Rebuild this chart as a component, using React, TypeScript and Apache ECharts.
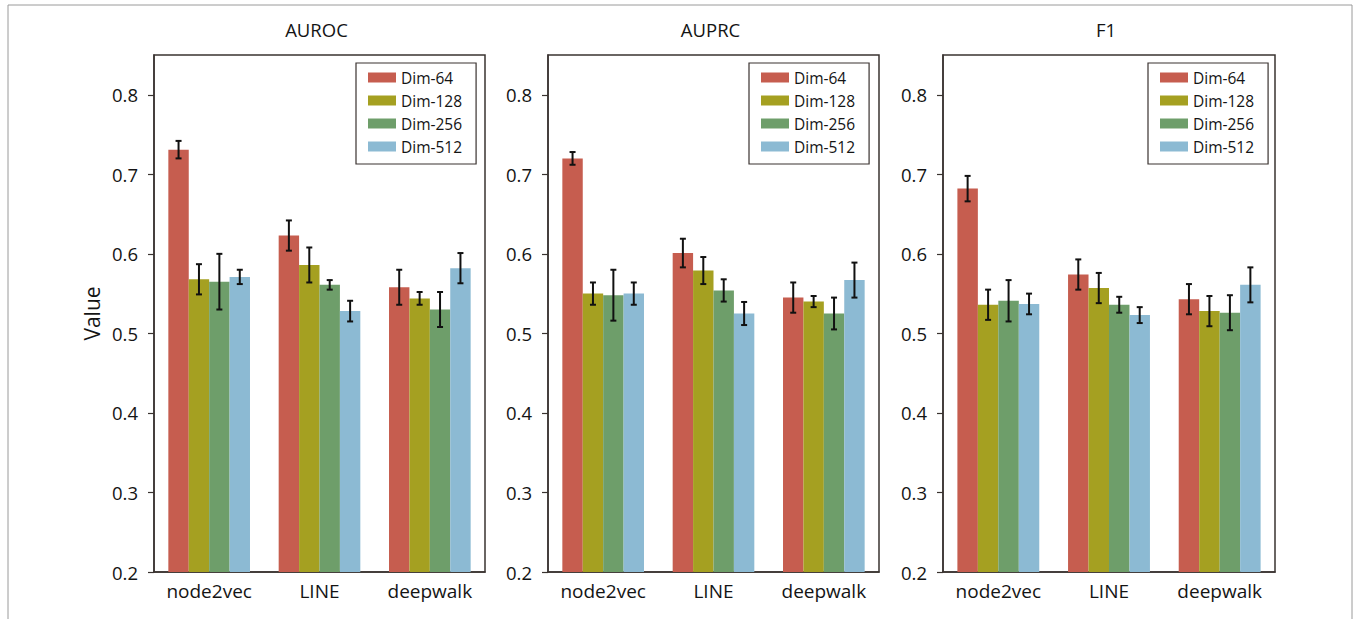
import React, { useEffect, useRef } from "react";
import * as echarts from "echarts";

const categories = ["node2vec", "LINE", "deepwalk"];
const dims = ["Dim-64", "Dim-128", "Dim-256", "Dim-512"];
const metrics = ["AUROC", "AUPRC", "F1"];
const yTicks = [0.2, 0.3, 0.4, 0.5, 0.6, 0.7, 0.8];
const colors = ["#C65D4F", "#A5A021", "#6E9E6A", "#8CBAD3"];

// values[dim][category]
const aurocMean = [
  [0.731, 0.623, 0.558],
  [0.568, 0.586, 0.544],
  [0.565, 0.561, 0.53],
  [0.571, 0.528, 0.582],
];
const aurocErr = [
  [0.011, 0.019, 0.022],
  [0.019, 0.022, 0.008],
  [0.035, 0.006, 0.022],
  [0.009, 0.013, 0.019],
];
const auprcMean = [
  [0.72, 0.601, 0.545],
  [0.55, 0.579, 0.54],
  [0.548, 0.554, 0.525],
  [0.55, 0.525, 0.567],
];
const auprcErr = [
  [0.008, 0.018, 0.019],
  [0.014, 0.017, 0.007],
  [0.032, 0.014, 0.02],
  [0.014, 0.0145, 0.022],
];
const f1Mean = [
  [0.682, 0.574, 0.543],
  [0.536, 0.557, 0.528],
  [0.541, 0.536, 0.526],
  [0.537, 0.523, 0.561],
];
const f1Err = [
  [0.016, 0.019, 0.019],
  [0.019, 0.019, 0.019],
  [0.026, 0.01, 0.022],
  [0.013, 0.01, 0.022],
];

const means = [aurocMean, auprcMean, f1Mean];
const errs = [aurocErr, auprcErr, f1Err];

const FONT = "'Open Sans', sans-serif";
const TXT = "#141414";
const CAT_GAP = 0.26;

export default function App() {
  const ref = useRef<HTMLDivElement>(null);
  useEffect(() => {
    if (!ref.current) return;
    const chart = echarts.init(ref.current, null, { renderer: "svg" });
    const gridLefts = [154, 548, 943];
    const gridWidths = [331, 331, 332];
    const legendLefts = [356, 749, 1148];

    const grid = gridLefts.map((l, i) => ({
      left: l,
      width: gridWidths[i],
      top: 55,
      bottom: 47,
      show: true,
      borderColor: "#3a3330",
      borderWidth: 1.5,
      backgroundColor: "transparent",
    }));

    const xAxis = metrics.map((_, i) => ({
      type: "category",
      gridIndex: i,
      data: categories,
      axisLine: { show: true, lineStyle: { color: "#3a3330", width: 1.5 } },
      axisTick: { show: false },
      axisLabel: {
        fontFamily: FONT,
        fontSize: 19,
        color: TXT,
        margin: 9,
        interval: 0,
        hideOverlap: false,
      },
    }));

    const yAxis = metrics.map((_, i) => ({
      type: "value",
      gridIndex: i,
      min: 0.2,
      max: 0.85,
      splitLine: { show: false },
      axisLine: { show: true, lineStyle: { color: "#3a3330", width: 1.5 } },
      axisTick: {
        show: true,
        length: 6,
        customValues: yTicks,
        lineStyle: { color: "#3a3330", width: 1.2 },
      },
      axisLabel: {
        fontFamily: FONT,
        fontSize: 18.5,
        color: TXT,
        margin: 16,
        customValues: yTicks,
        formatter: (v: number) => v.toFixed(1),
      },
      name: i === 0 ? "Value" : "",
      nameLocation: "middle",
      nameGap: 52,
      nameTextStyle: { fontFamily: FONT, fontSize: 21, color: TXT },
    }));

    const series: any[] = [];
    metrics.forEach((_, mi) => {
      dims.forEach((d, di) => {
        series.push({
          type: "bar",
          name: d,
          xAxisIndex: mi,
          yAxisIndex: mi,
          data: means[mi][di],
          barGap: "0%",
          barCategoryGap: CAT_GAP * 100 + "%",
          itemStyle: { color: colors[di] },
          emphasis: { disabled: true },
        });
      });
      const errData: number[][] = [];
      dims.forEach((_, di) => {
        categories.forEach((_, ci) => {
          errData.push([ci, means[mi][di][ci], errs[mi][di][ci], di]);
        });
      });
      series.push({
        type: "custom",
        xAxisIndex: mi,
        yAxisIndex: mi,
        data: errData,
        z: 10,
        silent: true,
        renderItem: (params: any, api: any) => {
          const ci = api.value(0);
          const v = api.value(1);
          const e = api.value(2);
          const di = api.value(3);
          const c = api.coord([ci, v]);
          const band = api.size([1, 0])[0];
          const bw = (band * (1 - CAT_GAP)) / dims.length;
          const x = c[0] + (di - (dims.length - 1) / 2) * bw;
          const yt = api.coord([ci, v + e])[1];
          const yb = api.coord([ci, v - e])[1];
          const cap = 3;
          const style = { stroke: "#111", lineWidth: 2 };
          return {
            type: "group",
            children: [
              { type: "line", shape: { x1: x, y1: yt, x2: x, y2: yb }, style },
              { type: "line", shape: { x1: x - cap, y1: yt, x2: x + cap, y2: yt }, style },
              { type: "line", shape: { x1: x - cap, y1: yb, x2: x + cap, y2: yb }, style },
            ],
          };
        },
      });
    });

    const legend = legendLefts.map((l) => ({
      data: dims,
      orient: "vertical",
      left: l,
      top: 63,
      icon: "rect",
      itemWidth: 28,
      itemHeight: 10,
      itemGap: 6,
      padding: [6, 14, 9, 12],
      borderColor: "#3a3330",
      borderWidth: 1.2,
      borderRadius: 0,
      backgroundColor: "#fff",
      textStyle: { fontFamily: FONT, fontSize: 15.5, color: TXT, lineHeight: 17 },
      selectedMode: false,
    }));

    const title = metrics.map((m, i) => ({
      text: m,
      left: gridLefts[i] + gridWidths[i] / 2 - 3,
      textAlign: "center",
      top: 20,
      padding: 0,
      textStyle: { fontFamily: FONT, fontSize: 18.5, fontWeight: "normal", color: TXT },
    }));

    chart.setOption({
      animation: false,
      backgroundColor: "#fff",
      title,
      legend,
      grid,
      xAxis,
      yAxis,
      series,
      graphic: [
        {
          type: "rect",
          shape: { x: 8, y: 5, width: 1344, height: 640 },
          style: { fill: "none", stroke: "#9a9a9a", lineWidth: 1 },
          silent: true,
        },
      ],
    });
    return () => chart.dispose();
  }, []);
  return (
    <div
      ref={ref}
      style={{ position: "fixed", left: 0, top: 0, width: 1360, height: 619 }}
    />
  );
}
